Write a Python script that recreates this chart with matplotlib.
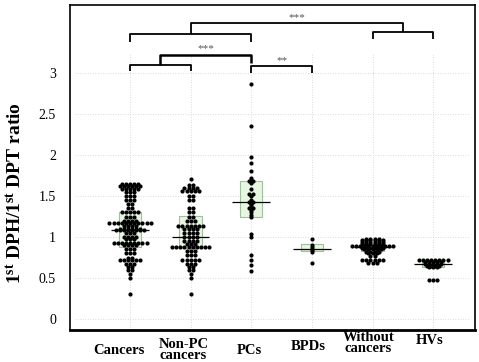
import numpy as np
import matplotlib
matplotlib.use("Agg")
import matplotlib.pyplot as plt

plt.rcParams['font.family'] = ['Liberation Serif', 'DejaVu Serif']
plt.rcParams['mathtext.fontset'] = 'custom'
plt.rcParams['mathtext.rm'] = 'Liberation Serif'
plt.rcParams['mathtext.bf'] = 'Liberation Serif:bold'

# groups
groups = ["Cancers", "Non-PC\ncancers", "PCs", "BPDs", "Without\ncancers", "HVs"]

# values (level, count)
cancers_lv = [1.65, 1.62, 1.58, 1.55, 1.5, 1.45, 1.4, 1.35, 1.3, 1.25, 1.2, 1.17, 1.13, 1.1, 1.08,
              1.05, 1.0, 0.97, 0.93, 0.9, 0.85, 0.8, 0.75, 0.72, 0.67, 0.63, 0.6, 0.55, 0.5, 0.3]
cancers_n = [5, 6, 5, 3, 3, 3, 2, 2, 5, 3, 4, 11, 4, 6, 8,
             3, 4, 3, 9, 4, 3, 3, 2, 6, 3, 2, 2, 1, 1, 1]

nonpc_lv = [1.71, 1.63, 1.6, 1.56, 1.5, 1.45, 1.35, 1.3, 1.25, 1.2, 1.13, 1.1, 1.05, 1.0, 0.95,
            0.92, 0.88, 0.83, 0.78, 0.72, 0.67, 0.63, 0.6, 0.55, 0.5, 0.3]
nonpc_n = [1, 2, 4, 5, 2, 2, 2, 2, 2, 3, 7, 4, 4, 4, 4,
           3, 10, 3, 3, 5, 3, 2, 2, 1, 1, 1]

pcs_lv = [2.87, 2.35, 1.98, 1.9, 1.8, 1.72, 1.7, 1.68, 1.66, 1.58, 1.52, 1.5, 1.45,
          1.43, 1.42, 1.4, 1.38, 1.35, 1.33, 1.3, 1.27, 1.25, 1.04, 1.0,
          0.78, 0.72, 0.66, 0.58]
pcs_n = [1, 1, 1, 1, 1, 1, 1, 2, 1, 1, 2, 1, 1,
         2, 1, 1, 1, 2, 1, 1, 1, 1, 1, 1,
         1, 1, 1, 1]

bpds_lv = [0.97, 0.9, 0.88, 0.86, 0.84, 0.82, 0.68]
bpds_n = [1, 1, 1, 1, 1, 1, 1]

without_lv = [0.98, 0.96, 0.94, 0.92, 0.89, 0.87, 0.85, 0.82, 0.8, 0.77, 0.72, 0.68]
without_n = [4, 6, 6, 6, 11, 6, 5, 4, 3, 2, 6, 3]

hvs_lv = [0.72, 0.7, 0.67, 0.65, 0.63, 0.48]
hvs_n = [8, 5, 5, 4, 3, 3]

# box stats (q1, median, q3)
box_q1 = [0.88, 0.87, 1.24, 0.83, 0.83, 0.63]
box_med = [1.085, 1.0, 1.43, 0.86, 0.88, 0.67]
box_q3 = [1.30, 1.26, 1.68, 0.91, 0.93, 0.71]

yticks = [0, 0.5, 1, 1.5, 2, 2.5, 3]
ytick_labels = ["0", "0.5", "1", "1.5", "2", "2.5", "3"]

levels = [cancers_lv, nonpc_lv, pcs_lv, bpds_lv, without_lv, hvs_lv]
counts = [cancers_n, nonpc_n, pcs_n, bpds_n, without_n, hvs_n]

fig = plt.figure(figsize=(4.79, 3.62), dpi=100)
ax = fig.add_axes([70 / 479, 32 / 362, 405 / 479, 325 / 362])

pos = np.arange(len(groups))

# grid
ax.hlines(yticks, -0.9, 5.6, colors="#cfcfcf", linestyles=(0, (1, 2)), linewidth=0.6, zorder=0)
ax.vlines(pos, -0.13, 3.25, colors="#cfcfcf", linestyles=(0, (1, 2)), linewidth=0.6, zorder=0)

# boxes
ax.bar(pos, np.array(box_q3) - np.array(box_q1), bottom=box_q1, width=0.37,
       color="#e6f6e0", edgecolor="#9fbf9f", linewidth=0.8, zorder=1)

# dot strips: points with the same value laid side by side
dx = 0.068
for i in range(len(groups)):
    xs, ys = [], []
    for lv, n in zip(levels[i], counts[i]):
        off = (np.arange(n) - (n - 1) / 2) * dx
        xs.extend(i + off)
        ys.extend([lv] * n)
    ax.scatter(xs, ys, s=9, color="black", linewidths=0, zorder=3)

ax.hlines(box_med, pos - 0.31, pos + 0.31, colors="black", linewidth=0.9, zorder=4)

ax.set_xlim(-0.99, 5.69)
ax.set_ylim(-0.134, 3.83)
ax.set_yticks(yticks)
ax.set_yticklabels(ytick_labels, fontsize=10)
ax.tick_params(axis="y", length=0, pad=10)
ax.set_xticks([])
for s in ax.spines.values():
    s.set_linewidth(1.2)
ax.spines["bottom"].set_linewidth(2)

# x labels (hand-placed in the source figure)
lab_dy = [350, 350, 350, 347, 343, 340]
lab_dx = [-11, -7, -2, -4, -4, -3]
for i, g in enumerate(groups):
    x_fig = (130 + 60.6 * i + lab_dx[i]) / 479
    fig.text(x_fig, 1 - lab_dy[i] / 362, g, ha="center", va="center", fontsize=10.5,
             fontweight="bold", linespacing=0.75)

fig.text(15 / 479, 1 - 193 / 362, r"1$\mathbf{^{st}}$ DPH/1$\mathbf{^{st}}$ DPT ratio",
         rotation=90, ha="center", va="center", fontsize=14, fontweight="bold")

# significance brackets
lw = 1.3
def line(xs, ys, w=lw):
    ax.plot(xs, ys, color="black", linewidth=w, clip_on=False, zorder=5, solid_capstyle="butt")

line([0, 0, 1, 1], [3.02, 3.10, 3.10, 3.02])
line([0.5, 0.5, 2, 2], [3.10, 3.22, 3.22, 3.12], w=1.8)
line([2, 2, 3, 3], [3.0, 3.085, 3.085, 3.0])
line([0, 0, 2, 2], [3.38, 3.475, 3.475, 3.38])
line([4, 4, 5, 5], [3.415, 3.50, 3.50, 3.415])
line([1, 1, 4.5, 4.5], [3.475, 3.61, 3.61, 3.50])

star_kw = dict(ha="center", va="center", fontsize=8, color="#555555")
ax.text(1.25, 3.30, "***", **star_kw)
ax.text(2.5, 3.15, "**", **star_kw)
ax.text(2.75, 3.68, "***", **star_kw)

fig.savefig("out.png", dpi=100)
